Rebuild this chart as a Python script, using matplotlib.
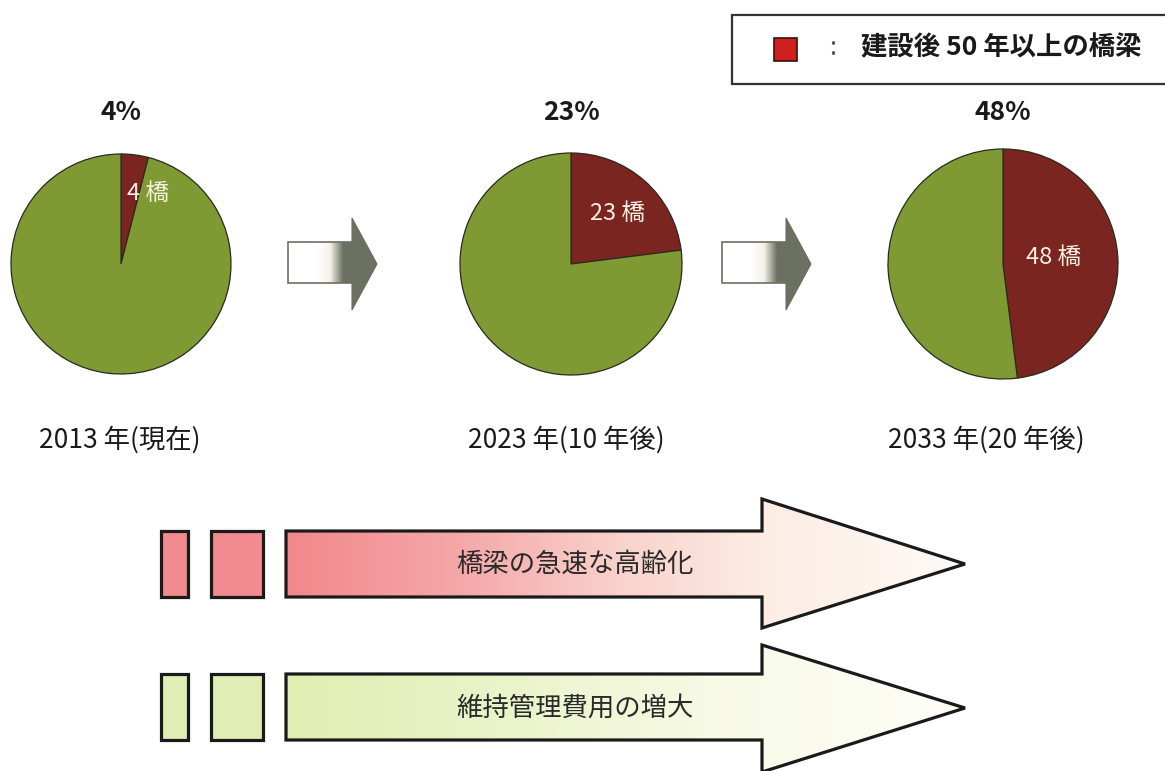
import matplotlib
matplotlib.use("Agg")
import matplotlib.pyplot as plt
import numpy as np
from matplotlib.patches import Polygon, Rectangle
from matplotlib.colors import LinearSegmentedColormap

plt.rcParams['font.family'] = ['Noto Sans CJK JP', 'DejaVu Sans']

# ---------------- data ----------------
years = ['2013 年(現在)', '2023 年(10 年後)', '2033 年(20 年後)']
old_share = [4, 23, 48]          # % of bridges 50+ years after construction
bridge_counts = [4, 23, 48]      # number of bridges
pct_labels = ['4%', '23%', '48%']
count_labels = ['4 橋', '23 橋', '48 橋']
legend_label = '建設後 50 年以上の橋梁'
trend_labels = ['橋梁の急速な高齢化', '維持管理費用の増大']

# ---------------- layout ----------------
W, H = 1165, 771
def Y(y):
    return H - y

pie_cx = [121, 571, 1003]
pie_cy = 264
pie_r = [110, 111, 115]
count_pos = [(148, 193), (618, 214), (1054, 257)]
year_pos = [(120, 440), (566, 440), (986, 440)]
pct_y = 113

RED = '#7b2520'
GREEN = '#7f9a33'
EDGE = '#2a2a1e'

fig = plt.figure(figsize=(W / 100, H / 100), dpi=100)
ax = fig.add_axes([0, 0, 1, 1])

# ---------------- pies ----------------
for i in range(3):
    share = old_share[i]
    ax.pie([share, 100 - share], colors=[RED, GREEN], startangle=90,
           counterclock=False, center=(pie_cx[i], Y(pie_cy)), radius=pie_r[i],
           frame=True, wedgeprops=dict(edgecolor=EDGE, linewidth=0.9))
    ax.text(pie_cx[i], Y(pct_y), pct_labels[i], ha='center', va='center',
            fontsize=19, fontweight='bold', color='#1a1a1a')
    ax.text(count_pos[i][0], Y(count_pos[i][1]), count_labels[i], ha='center',
            va='center', fontsize=17, color='#f6f0e4')
    ax.text(year_pos[i][0], Y(year_pos[i][1]), years[i], ha='center',
            va='center', fontsize=19, color='#1a1a1a')

# ---------------- small gray arrows ----------------
GRAY = '#6c7061'
gray_cmap = LinearSegmentedColormap.from_list('g', ['#ffffff', '#f4f2ea', GRAY])
for x0 in [288, 722]:
    body = Rectangle((x0, Y(283)), 65, 41, facecolor='none',
                     edgecolor=GRAY, linewidth=1.2, zorder=3)
    ax.add_patch(body)
    xs = np.linspace(0, 1, 200)
    ramp = np.clip((xs - 0.45) / 0.4, 0, 1)
    img = ax.imshow(ramp[np.newaxis, :], extent=(x0, x0 + 65, Y(283), Y(242)),
                    cmap=gray_cmap, vmin=0, vmax=1, aspect='auto',
                    interpolation='bilinear', zorder=2)
    img.set_clip_path(body)
    head = Polygon([(x0 + 64, Y(218)), (x0 + 89, Y(264)), (x0 + 64, Y(310))],
                   closed=True, facecolor=GRAY, edgecolor=GRAY, linewidth=0.8,
                   zorder=3)
    ax.add_patch(head)

# ---------------- legend box ----------------
ax.add_patch(Rectangle((732, Y(84)), 460, 69, facecolor='white',
                       edgecolor='#333333', linewidth=1.6, zorder=4))
ax.add_patch(Rectangle((774, Y(61)), 23, 23, facecolor='#cf2020',
                       edgecolor='#3a1010', linewidth=1.2, zorder=5))
ax.text(833, Y(48), ':', ha='center', va='center', fontsize=18,
        color='#555555', zorder=5)
ax.text(861, Y(48), legend_label, ha='left', va='center', fontsize=19,
        fontweight='bold', color='#1a1a1a', zorder=5)

# ---------------- big trend arrows ----------------
rows = [(531, 597, 499, 628, 564), (674, 740, 645, 772, 708)]
fills = [[(0.0, '#f2888c'), (0.25, '#f5a7a8'), (0.5, '#f9d3cd'),
          (0.7, '#fcece4'), (1.0, '#fefaf6')],
         [(0.0, '#e0eeb2'), (0.25, '#e8f2c4'), (0.5, '#f2f7da'),
          (0.7, '#f9fbea'), (1.0, '#fefef8')]]
solids = ['#f28b8f', '#e0edb4']
for (yt, yb, ht, hb, tip), stops, solid, label in zip(rows, fills, solids, trend_labels):
    ax.add_patch(Rectangle((161, Y(yb)), 27, yb - yt, facecolor=solid,
                           edgecolor='#1a1a1a', linewidth=2.3, zorder=3))
    ax.add_patch(Rectangle((211, Y(yb)), 52, yb - yt, facecolor=solid,
                           edgecolor='#1a1a1a', linewidth=2.3, zorder=3))
    pts = [(286, Y(yt)), (762, Y(yt)), (762, Y(ht)), (965, Y(tip)),
           (762, Y(hb)), (762, Y(yb)), (286, Y(yb))]
    arrow = Polygon(pts, closed=True, facecolor='none', edgecolor='#1a1a1a',
                    linewidth=2.3, zorder=4, joinstyle='miter')
    ax.add_patch(arrow)
    cmap = LinearSegmentedColormap.from_list('a', stops)
    grad = np.linspace(0, 1, 400)[np.newaxis, :]
    img = ax.imshow(grad, extent=(286, 966, Y(hb), Y(ht)), cmap=cmap,
                    aspect='auto', interpolation='bilinear', zorder=2)
    img.set_clip_path(arrow)
    ax.text(575, Y(tip), label, ha='center', va='center', fontsize=19,
            color='#2a2a2a', zorder=5)

ax.set_xlim(0, W)
ax.set_ylim(0, H)
ax.axis('off')
fig.savefig('out.png', dpi=100, facecolor='white')
